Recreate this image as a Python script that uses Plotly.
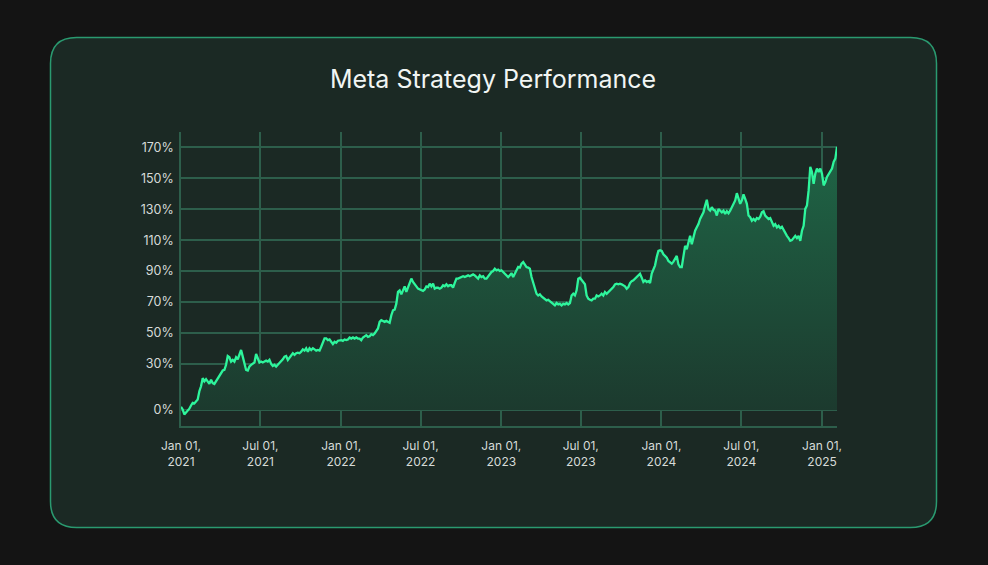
import pandas as pd
import plotly.graph_objects as go

# ---------------- data ----------------
start_date = "2021-01-01"
end_date = "2025-02-04"

perf_2021 = [2.1, 0.4, -2.8, -1.7, 0, 0.9, 3, 4.7, 4.3, 5.8, 6.8, 12.2, 15.4, 20.7, 18.6, 20,
             18.6, 17, 19.7, 17.5, 16.9, 18.6, 19.7, 21.8, 23.9, 25.6, 26, 29.3, 35, 34.2, 31.4, 32.5,
             31.4, 34.2, 32.9, 35.7, 38.9, 34.6, 29.3, 26, 25.6, 28.2, 29.3, 30.3, 30.8, 36.3, 33.5, 30.8,
             31.4, 30.8, 31.4, 32, 31.4, 32.5, 29.9, 28.6, 29.3, 28.2, 29.3, 30.3, 31.4, 32.9, 34.6, 35,
             32.5, 34.2, 35.7, 36.8, 35.7, 36.8, 37.2, 36.8, 37.8, 39.3, 38.5, 40, 37.8, 40, 38.9, 40,
             39.3, 38.5, 38.9, 38.5, 41, 43.2, 46.4, 46.4, 45.3, 45.7, 44.2, 42.7, 44.2, 43.6, 44.9, 45.3]

perf_2022 = [45.3, 44.8, 45.7, 45.3, 45.7, 47, 46.3, 47, 46.3, 47, 46.3, 46.3, 45.3, 47, 47.8, 48.5,
             47.4, 47.8, 49.1, 48.5, 49.6, 51.7, 52.8, 57.1, 58.2, 57.7, 57.1, 57.7, 57.1, 56.5, 61.4, 64.6,
             65, 68.9, 76.5, 77.5, 74.9, 78, 80.1, 76.5, 79.2, 81.8, 85.1, 82.9, 81.8, 80.1, 78.6, 78,
             77.5, 77.1, 78, 80.1, 79.7, 81.8, 80.1, 81.8, 78.6, 79.2, 79.2, 78.6, 79.2, 80.8, 80.1, 81.4,
             80.1, 80.8, 80.8, 79.2, 82.3, 85.1, 85.1, 85.7, 86.1, 86.6, 86.1, 86.6, 87.2, 86.6, 87.2, 87.8,
             87.2, 86.1, 85.1, 87.2, 86.1, 86.6, 85.1, 85.1, 86.6, 88.3, 89.4, 90, 91.5, 90.4, 90.9, 90]

perf_2023 = [90.4, 89.4, 88.3, 87.2, 86.1, 87.2, 88.7, 86.1, 88.3, 90.9, 92.6, 92.2, 94.8, 95.8, 93.7, 92.6,
             92.2, 91.5, 86.1, 82.9, 78.6, 75.3, 74.2, 74.9, 73.6, 72.7, 72.1, 71, 71.4, 70.6, 69.9, 68.8,
             67.8, 69.3, 68.4, 68.8, 67.8, 68.8, 68.4, 69.3, 68.4, 69.3, 74.2, 75.3, 74.2, 77.5, 85, 85.7,
             84, 82.2, 81.4, 74.2, 72.1, 71.4, 71, 72.1, 72.1, 74.2, 73.6, 74.2, 75.3, 74.2, 76.4, 75.3,
             76.4, 77.5, 78.6, 79.6, 81.4, 81.8, 81.4, 81.8, 81.4, 80.7, 80.1, 78.6, 79.6, 82.2, 83.5, 84,
             85, 86.1, 87.2, 88.3, 85.7, 82.9, 84, 82.9, 83.5, 82.2, 88.3, 91.5, 93.7, 99.1, 103, 103.4]

perf_2024 = [103, 100.9, 99.8, 98.7, 96.5, 95.4, 94.8, 96.1, 97.6, 99.8, 94.3, 92.6, 92.6, 99.8, 106.3, 104.1,
             109.6, 112.8, 107.4, 111.7, 116.1, 118.3, 120.4, 123.7, 125.9, 128, 132.4, 136.1, 130.2, 129.1, 131.3, 129.6,
             129.1, 125.9, 130.2, 129.1, 128, 129.1, 127, 128.7, 127.4, 129.1, 131.3, 132.4, 135.7, 140.4, 136.7, 133.5,
             135.7, 139.6, 136.7, 133.5, 125.9, 124.8, 122.6, 123.7, 122.6, 124.3, 123.7, 125.2, 128, 128.7, 125.9, 124.8,
             123.7, 124.3, 122.2, 119.3, 120.4, 118.3, 119.3, 117.8, 118.7, 116.5, 113.9, 112.8, 111.3, 109.6, 110, 111.7,
             112.8, 111.3, 112.8, 109.6, 116.1, 119.3, 130.2, 132.4, 142.2, 157.4, 154.1, 146.5, 153, 156.3, 154.1, 156.3,
             153, 145.4, 147.6, 150.9, 153, 155.2, 156.3, 160.7, 162.8, 170.4]

performance = perf_2021 + perf_2022 + perf_2023 + perf_2024
dates = pd.date_range(start_date, end_date, periods=len(performance))

y_tick_vals = [0, 30, 50, 70, 90, 110, 130, 150, 170]
y_tick_text = ["0%", "30%", "50%", "70%", "90%", "110%", "130%", "150%", "170%"]
x_tick_vals = ["2021-01-01", "2021-07-01", "2022-01-01", "2022-07-01", "2023-01-01",
               "2023-07-01", "2024-01-01", "2024-07-01", "2025-01-01"]
x_tick_text = ["Jan 01,<br>2021", "Jul 01,<br>2021", "Jan 01,<br>2022", "Jul 01,<br>2022",
               "Jan 01,<br>2023", "Jul 01,<br>2023", "Jan 01,<br>2024", "Jul 01,<br>2024",
               "Jan 01,<br>2025"]

title_text = "Meta Strategy Performance"

# ---------------- layout geometry (pixels) ----------------
W, H = 988, 565
PL, PR, PT, PB = 181, 837, 132, 426  # plot area edges


def px_x(px):
    return (px - PL) / (PR - PL)


def px_y(py):
    return (PB - py) / (PB - PT)


def rounded_rect(x0, y0, x1, y1, r):
    pts = [
        f"M {px_x(x0 + r)} {px_y(y0)}",
        f"L {px_x(x1 - r)} {px_y(y0)}",
        f"Q {px_x(x1)} {px_y(y0)} {px_x(x1)} {px_y(y0 + r)}",
        f"L {px_x(x1)} {px_y(y1 - r)}",
        f"Q {px_x(x1)} {px_y(y1)} {px_x(x1 - r)} {px_y(y1)}",
        f"L {px_x(x0 + r)} {px_y(y1)}",
        f"Q {px_x(x0)} {px_y(y1)} {px_x(x0)} {px_y(y1 - r)}",
        f"L {px_x(x0)} {px_y(y0 + r)}",
        f"Q {px_x(x0)} {px_y(y0)} {px_x(x0 + r)} {px_y(y0)}",
        "Z",
    ]
    return " ".join(pts)


grid_color = "#2d5e4b"
line_color = "#2ef59c"

fig = go.Figure()
fig.add_trace(go.Scatter(
    x=dates, y=performance, mode="lines",
    line=dict(color=line_color, width=2.3),
    fill="tozeroy",
    fillgradient=dict(type="vertical", start=0, stop=170,
                      colorscale=[[0, "#1c3a2e"], [1, "#1f6546"]]),
    hoverinfo="skip", showlegend=False,
))

fig.update_layout(
    width=W, height=H,
    margin=dict(l=PL, r=W - PR, t=PT, b=H - PB),
    paper_bgcolor="#141414",
    plot_bgcolor="rgba(0,0,0,0)",
    font=dict(family="Inter, Lato, sans-serif", color="#d6dbd8", size=12),
    title=dict(text=title_text, x=493 / W, xref="container", xanchor="center",
               y=1 - 79 / H, yanchor="middle", yref="container",
               font=dict(size=25, color="#f1f5f3", family="Inter, sans-serif")),
    shapes=[dict(type="path", xref="paper", yref="paper", layer="below",
                 path=rounded_rect(50.5, 37.5, 936.5, 527.5, 26),
                 fillcolor="#1b2924", line=dict(color="#2a9a70", width=1.5))],
    showlegend=False,
)

fig.update_xaxes(
    range=[dates[0], dates[-1]],
    tickvals=x_tick_vals, ticktext=x_tick_text,
    showgrid=True, gridcolor=grid_color, gridwidth=1.5,
    showline=True, linecolor=grid_color, linewidth=1.5,
    zeroline=False, ticks="", ticklabelstandoff=8,
    tickfont=dict(size=12, color="#d6dbd8"),
)
fig.update_yaxes(
    range=[-10.3, 180],
    tickvals=y_tick_vals, ticktext=y_tick_text,
    showgrid=True, gridcolor=grid_color, gridwidth=1.5,
    showline=True, linecolor=grid_color, linewidth=1.5,
    zeroline=False, ticks="", ticklabelstandoff=3,
    tickfont=dict(size=12.5, color="#d6dbd8"),
)

fig.write_html(
    "out.html",
    config={"displayModeBar": False},
    post_script="document.body.style.margin='0';document.body.style.background='#141414';"
                "document.documentElement.style.background='#141414';",
)
